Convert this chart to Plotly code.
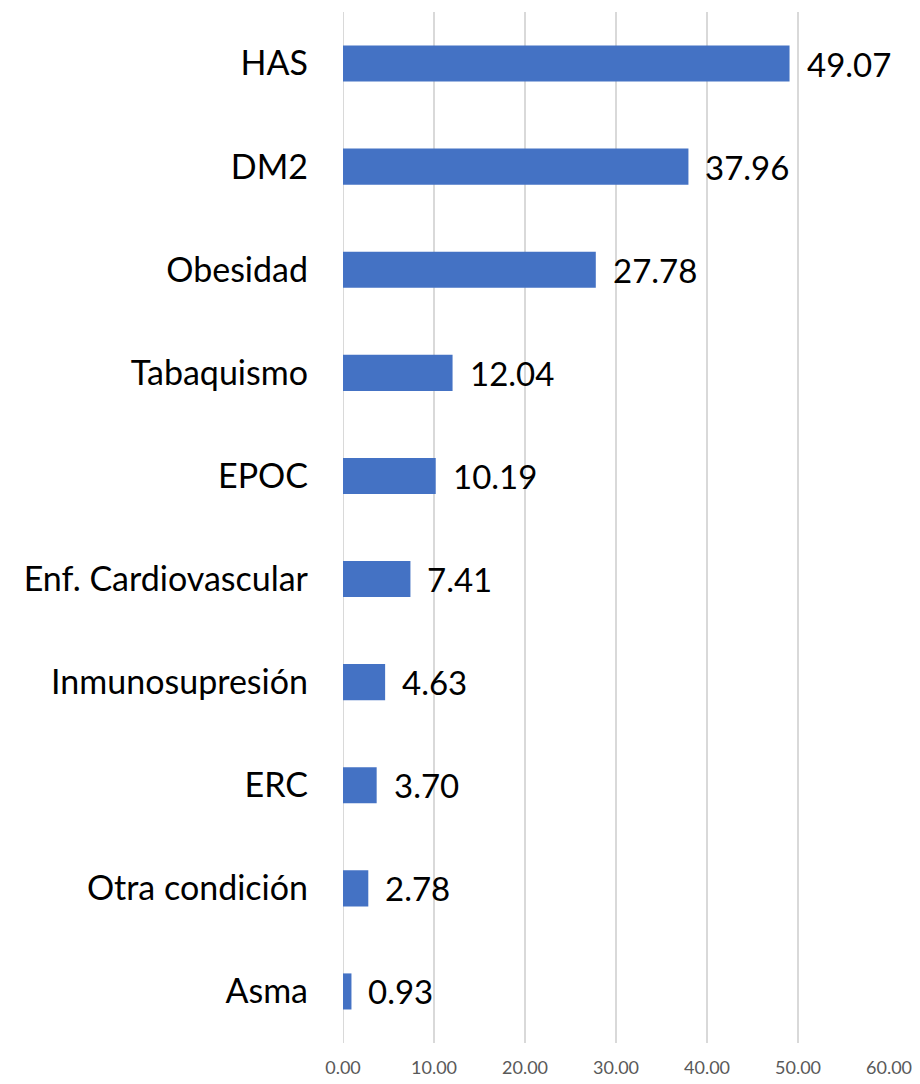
import plotly.graph_objects as go

categories = ["HAS", "DM2", "Obesidad", "Tabaquismo", "EPOC", "Enf. Cardiovascular",
              "Inmunosupresión", "ERC", "Otra condición", "Asma"]
values = [49.07, 37.96, 27.78, 12.04, 10.19, 7.41, 4.63, 3.70, 2.78, 0.93]
x_ticks = [0, 10, 20, 30, 40, 50, 60]
x_tick_labels = ["0.00", "10.00", "20.00", "30.00", "40.00", "50.00", "60.00"]

fig = go.Figure(go.Bar(
    y=categories, x=values, orientation="h",
    marker=dict(color="#4472C4", line=dict(width=0)),
    width=0.35,
    hoverinfo="x+y",
))

for c, v in zip(categories, values):
    fig.add_annotation(x=v, y=c, xref="x", yref="y", text=f"{v:.2f}",
                       showarrow=False, xanchor="left", yanchor="middle", xshift=15,
                       font=dict(family="Lato, sans-serif", size=33, color="#000000"))

# page body has an 8px default margin, so the figure is 8px smaller and offset
fig.update_layout(
    width=912, height=1076,
    margin=dict(l=335, r=31, t=4, b=41, autoexpand=False),
    plot_bgcolor="white", paper_bgcolor="white",
    showlegend=False,
    xaxis=dict(range=[0, 60], tickvals=x_ticks, ticktext=x_tick_labels,
               showgrid=True, gridcolor="#D9D9D9", gridwidth=2,
               zeroline=False, showline=False, automargin=False,
               tickfont=dict(family="Lato, sans-serif", size=18, color="#595959"),
               ticklabelstandoff=12),
    yaxis=dict(autorange="reversed", showgrid=False, zeroline=False, showline=False,
               automargin=False,
               tickfont=dict(family="Lato, sans-serif", size=34, color="#000000"),
               ticklabelstandoff=34),
)
fig.add_shape(type="line", xref="x", yref="paper", x0=0, x1=0, y0=0, y1=1,
              line=dict(color="#D9D9D9", width=2), layer="below")

fig.write_html("out.html")
